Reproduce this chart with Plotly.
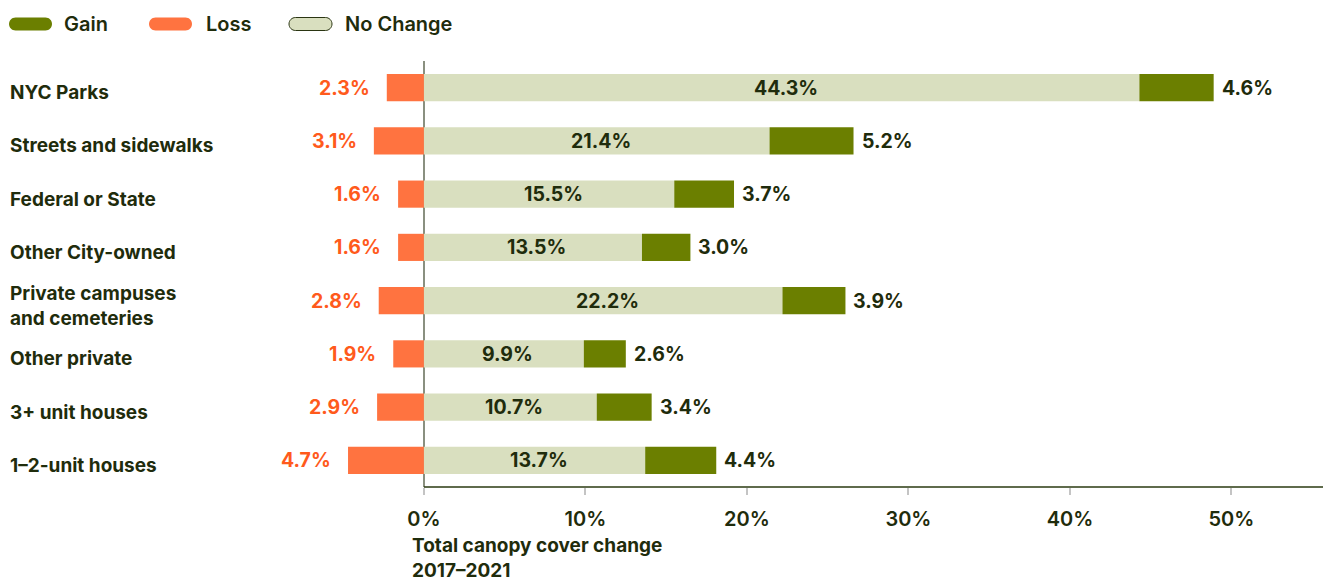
import plotly.graph_objects as go

categories = ["NYC Parks", "Streets and sidewalks", "Federal or State", "Other City-owned",
              "Private campuses<br>and cemeteries", "Other private", "3+ unit houses", "1\u20132-unit houses"]
loss = [2.3, 3.1, 1.6, 1.6, 2.8, 1.9, 2.9, 4.7]
no_change = [44.3, 21.4, 15.5, 13.5, 22.2, 9.9, 10.7, 13.7]
gain = [4.6, 5.2, 3.7, 3.0, 3.9, 2.6, 3.4, 4.4]
tick_vals = [0, 10, 20, 30, 40, 50]
tick_text = ["0%", "10%", "20%", "30%", "40%", "50%"]

GAIN = "#6b7f00"
LOSS = "#ff7340"
NOCH = "#d9dfbf"
DARK = "#1f2c0c"
LOSS_TXT = "#ff5a1c"
FONT = "Inter"

W, H = 1323, 584
x_min, x_max = -26.25, 55.67

fig = go.Figure()
fig.add_trace(go.Bar(y=categories, x=[-v for v in loss], orientation="h", marker_color=LOSS,
                     marker_line_width=0, name="Loss", hoverinfo="skip"))
fig.add_trace(go.Bar(y=categories, x=no_change, orientation="h", marker_color=NOCH,
                     marker_line_width=0, name="No Change", hoverinfo="skip"))
fig.add_trace(go.Bar(y=categories, x=gain, orientation="h", marker_color=GAIN,
                     marker_line_width=0, name="Gain", hoverinfo="skip"))

num_font = dict(family=FONT, size=19.5, color=DARK, weight=700)
annotations = []
for c, l, n, g in zip(categories, loss, no_change, gain):
    annotations.append(dict(x=-l, y=c, xref="x", yref="y", text=f"{l:.1f}%", showarrow=False,
                            xanchor="right", xshift=-15,
                            font=dict(num_font, color=LOSS_TXT)))
    annotations.append(dict(x=n / 2, y=c, xref="x", yref="y", text=f"{n:.1f}%", showarrow=False,
                            xanchor="center", xshift=4, font=num_font))
    annotations.append(dict(x=n + g, y=c, xref="x", yref="y", text=f"{g:.1f}%", showarrow=False,
                            xanchor="left", xshift=6, font=num_font))
    annotations.append(dict(x=8 / W, y=c, xref="paper", yref="y", text=c, showarrow=False,
                            xanchor="left", align="left", yshift=-5,
                            font=dict(family=FONT, size=19, color=DARK, weight=700)))

# axis title
annotations.append(dict(x=411 / W, y=-96 / 426, xref="paper", yref="paper", yanchor="bottom",
                        xanchor="left", align="left", showarrow=False, borderpad=0,
                        text="Total canopy cover change<br>2017\u20132021",
                        font=dict(family=FONT, size=19, color=DARK, weight=700)))

# legend built by hand (pill markers)
legend_items = [("Gain", GAIN, GAIN, 9, 62), ("Loss", LOSS, LOSS, 149, 204),
                ("No Change", NOCH, "#2a3512", 289, 343)]
shapes = []
top_margin = 61
plot_h = H - top_margin - 97
for name, fill, edge, px0, tx in legend_items:
    yc = (H - 97 - 24) / plot_h  # paper y of legend centre
    r = 6.5
    w = 43
    path = (f"M {r},{r} L {w - r},{r} C {w - r + 3.6},{r} {w},{3.6} {w},0 "
            f"C {w},{-3.6} {w - r + 3.6},{-r} {w - r},{-r} L {r},{-r} "
            f"C {r - 3.6},{-r} 0,{-3.6} 0,0 C 0,{3.6} {r - 3.6},{r} {r},{r} Z")
    shapes.append(dict(type="path", xref="paper", yref="paper", xsizemode="pixel",
                       ysizemode="pixel", xanchor=px0 / W, yanchor=yc, path=path,
                       fillcolor=fill, line=dict(color=edge, width=1 if name == "No Change" else 0)))
    annotations.append(dict(x=tx / W, y=yc, xref="paper", yref="paper", xanchor="left",
                            yanchor="middle", text=name, showarrow=False,
                            font=dict(family=FONT, size=20, color=DARK, weight=600)))

# bottom axis line from 0 to the right edge
shapes.append(dict(type="line", xref="x", yref="paper", x0=0, x1=x_max, y0=0, y1=0,
                   line=dict(color="#2a3a10", width=1.5)))

fig.update_layout(
    width=W, height=H,
    barmode="relative", bargap=0.49,
    showlegend=False, hovermode=False,
    plot_bgcolor="white", paper_bgcolor="white",
    margin=dict(l=0, r=0, t=top_margin, b=97),
    font=dict(family=FONT, color=DARK),
    annotations=annotations, shapes=shapes,
    xaxis=dict(range=[x_min, x_max], tickvals=tick_vals, ticktext=tick_text,
               showgrid=False, zeroline=True, zerolinecolor="#8a9080", zerolinewidth=2,
               ticks="outside", ticklen=7, tickcolor="#c4c4c4", tickwidth=2,
               ticklabelstandoff=7, layer="above traces",
               tickfont=dict(family=FONT, size=20, color=DARK, weight=600)),
    yaxis=dict(autorange="reversed", showticklabels=False, showgrid=False, zeroline=False,
               range=[7.5, -0.5]),
)

fig.write_html("out.html", config={"displayModeBar": False},
               post_script="document.body.style.margin='0';")
